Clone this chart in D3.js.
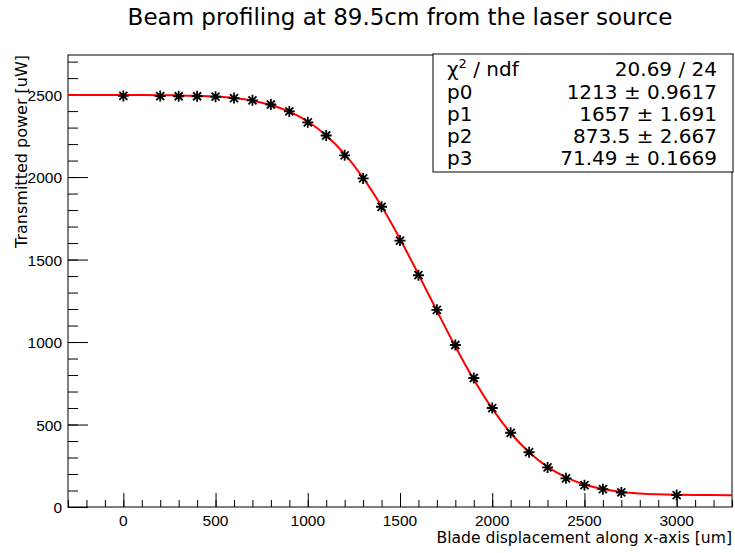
<!DOCTYPE html>
<html>
<head>
<meta charset="utf-8">
<script src="https://cdn.jsdelivr.net/npm/d3@7"></script>
<style>
  body { margin: 0; background: #fff; }
  svg { font-family: "DejaVu Sans", "Liberation Sans", Arial, sans-serif; }
</style>
</head>
<body>
<div id="chart"></div>
<script>
// measured points (blade position in um, transmitted power in uW)
const bladeX = [0, 200, 300, 400, 500, 600, 700, 800, 900, 1000, 1100, 1200, 1300, 1400,
                1500, 1600, 1700, 1800, 1900, 2000, 2100, 2200, 2300, 2400, 2500, 2600, 2700, 3000];
const powerY = [2492, 2491, 2490, 2490, 2487, 2479, 2465, 2440, 2398, 2332, 2252, 2132, 1992, 1820,
                1615, 1405, 1195, 982, 782, 600, 450, 332, 240, 174, 132, 108, 88, 72];

// red fit curve
const fitX = [-300, -200, -100, 0, 100, 200, 300, 400, 500, 600, 700, 800, 900, 1000, 1100, 1200,
              1300, 1400, 1500, 1600, 1700, 1800, 1900, 2000, 2100, 2200, 2300, 2400, 2500, 2600,
              2700, 2800, 2900, 3000, 3100, 3200, 3300];
const fitY = [2497.5, 2497.5, 2497.4, 2497.3, 2497.1, 2496.4, 2495.2, 2492.7, 2487.9, 2478.9, 2463.3,
              2436.9, 2396.5, 2336.8, 2252.0, 2139.2, 1995.6, 1822.8, 1625.2, 1410.4, 1189.4, 973.4,
              772.9, 596.0, 448.5, 331.5, 242.8, 179.7, 136.6, 108.9, 91.5, 82.3, 77.0, 74.1, 72.6,
              72.0, 71.7];

// stats box
const statLabels = ["χ2 / ndf", "p0", "p1", "p2", "p3"];
const statValues = ["20.69 / 24", "1213 ± 0.9617", "1657 ± 1.691", "873.5 ± 2.667", "71.49 ± 0.1669"];

const xTicks = [0, 500, 1000, 1500, 2000, 2500, 3000];
const yTicks = [0, 500, 1000, 1500, 2000, 2500];

const W = 735, H = 553;
const frame = {left: 68, right: 732, top: 55, bottom: 507};

const svg = d3.select("#chart").append("svg")
  .attr("width", W).attr("height", H);

const x = d3.scaleLinear().domain([-300, 3300]).range([frame.left, frame.right]);
const y = d3.scaleLinear().domain([0, 2740]).range([frame.bottom, frame.top]);

// frame
svg.append("rect")
  .attr("x", frame.left).attr("y", frame.top)
  .attr("width", frame.right - frame.left).attr("height", frame.bottom - frame.top)
  .attr("fill", "none").attr("stroke", "#000").attr("stroke-width", 1);

// x axis: major + minor ticks
const xAxisG = svg.append("g").attr("transform", `translate(0,${frame.bottom})`);
xAxisG.call(d3.axisTop(x).tickValues(d3.range(-300, 3301, 100)).tickSize(7).tickFormat(""))
  .call(g => g.select(".domain").remove());
xAxisG.append("g")
  .call(d3.axisTop(x).tickValues(xTicks).tickSize(14).tickFormat(""))
  .call(g => g.select(".domain").remove());
xAxisG.selectAll("line").attr("stroke", "#000");
xAxisG.selectAll(".xlab").data(xTicks).enter().append("text")
  .attr("x", d => x(d)).attr("y", 19)
  .attr("text-anchor", "middle").attr("font-size", 15.5).attr("fill", "#000")
  .text(d => d);

// y axis
const yAxisG = svg.append("g").attr("transform", `translate(${frame.left},0)`);
yAxisG.call(d3.axisRight(y).tickValues(d3.range(0, 2701, 100)).tickSize(10).tickFormat(""))
  .call(g => g.select(".domain").remove());
yAxisG.append("g")
  .call(d3.axisRight(y).tickValues(yTicks).tickSize(20).tickFormat(""))
  .call(g => g.select(".domain").remove());
yAxisG.selectAll("line").attr("stroke", "#000");
yAxisG.selectAll(".ylab").data(yTicks).enter().append("text")
  .attr("x", -6).attr("y", d => y(d) + 6)
  .attr("text-anchor", "end").attr("font-size", 15.5).attr("fill", "#000")
  .text(d => d);

// axis titles
svg.append("text")
  .attr("x", frame.right).attr("y", 543)
  .attr("text-anchor", "end").attr("font-size", 15.6)
  .text("Blade displacement along x-axis [um]");
svg.append("text")
  .attr("transform", `translate(27,${frame.top}) rotate(-90)`)
  .attr("text-anchor", "end").attr("font-size", 16)
  .text("Transmitted power [uW]");

// title
svg.append("text")
  .attr("x", (frame.left + frame.right) / 2).attr("y", 25)
  .attr("text-anchor", "middle").attr("font-size", 23)
  .text("Beam profiling at 89.5cm from the laser source");

// fit curve
const fitData = fitX.map((d, i) => [d, fitY[i]]);
svg.append("path")
  .datum(fitData)
  .attr("fill", "none").attr("stroke", "#ff0000").attr("stroke-width", 2)
  .attr("d", d3.line().x(d => x(d[0])).y(d => y(d[1])).curve(d3.curveMonotoneX));

// star markers
const s = 5.5, s2 = 4;
const starPath = `M${-s},0L${s},0M0,${-s}L0,${s}M${-s2},${-s2}L${s2},${s2}M${-s2},${s2}L${s2},${-s2}`;
svg.selectAll(".pt").data(bladeX).enter().append("path")
  .attr("class", "pt")
  .attr("transform", (d, i) => `translate(${x(d)},${y(powerY[i])})`)
  .attr("d", starPath)
  .attr("stroke", "#000").attr("stroke-width", 1.8).attr("fill", "none");

// stats box
const box = {x: 433, y: 54, w: 300, h: 118};
svg.append("rect")
  .attr("x", box.x).attr("y", box.y).attr("width", box.w).attr("height", box.h)
  .attr("fill", "#fff").attr("stroke", "#000").attr("stroke-width", 1);

const rowBase = [76, 99, 121, 143, 165];
statLabels.forEach((lab, i) => {
  const t = svg.append("text")
    .attr("x", box.x + 14).attr("y", rowBase[i])
    .attr("font-size", 20);
  if (i === 0) {
    t.append("tspan").text("χ");
    t.append("tspan").attr("dy", -8).attr("font-size", 13).text("2");
    t.append("tspan").attr("dy", 8).text(" / ndf");
  } else {
    t.text(lab);
  }
  svg.append("text")
    .attr("x", 717).attr("y", rowBase[i])
    .attr("text-anchor", "end").attr("font-size", 20)
    .text(statValues[i]);
});
</script>
</body>
</html>
